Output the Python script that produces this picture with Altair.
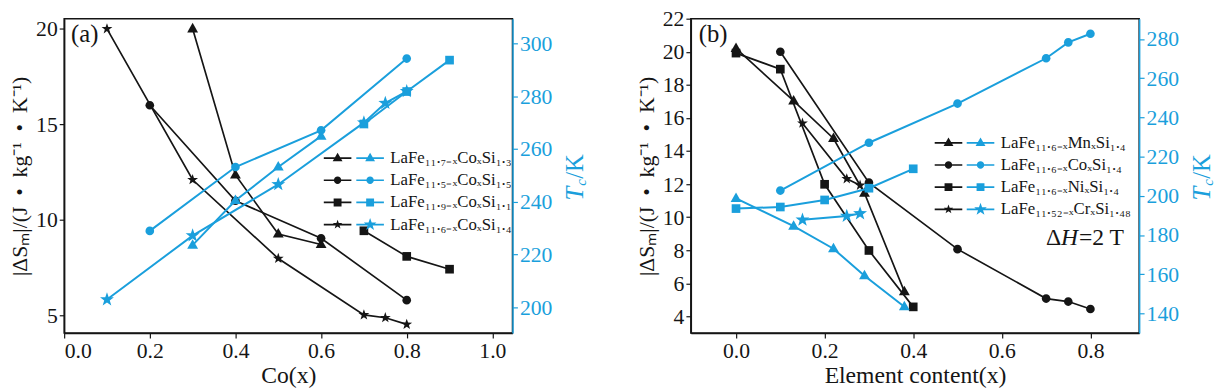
import math
import altair as alt
import pandas as pd

FONT = "Liberation Serif"
BLUE = "#1a9fdc"
INK = "#151515"

# ---------------- panel (a) data ----------------
a_series = ["LaFe₁₁.₇₋ₓCoₓSi₁.₃", "LaFe₁₁.₅₋ₓCoₓSi₁.₅",
            "LaFe₁₁.₉₋ₓCoₓSi₁.₁", "LaFe₁₁.₆₋ₓCoₓSi₁.₄"]
a1_x = [0.3, 0.4, 0.5, 0.6]
a1_ds = [20.0, 12.35, 9.26, 8.71]
a1_tc = [223.6, 240.5, 253.2, 264.9]
a2_x = [0.2, 0.4, 0.6, 0.8]
a2_ds = [16.0, 11.0, 9.04, 5.8]
a2_tc = [229.0, 253.2, 267.1, 294.3]
a3_x = [0.7, 0.8, 0.9]
a3_ds = [9.43, 8.09, 7.42]
a3_tc = [269.5, 281.8, 293.7]
a4_x = [0.1, 0.3, 0.5, 0.7, 0.75, 0.8]
a4_ds = [20.0, 12.1, 7.98, 5.03, 4.88, 4.53]
a4_tc = [203.0, 227.2, 246.6, 270.0, 277.4, 281.9]

# ---------------- panel (b) data ----------------
b_series = ["LaFe₁₁.₆₋ₓMnₓSi₁.₄", "LaFe₁₁.₆₋ₓCoₓSi₁.₄",
            "LaFe₁₁.₆₋ₓNiₓSi₁.₄", "LaFe₁₁.₅₂₋ₓCrₓSi₁.₄₈"]
b1_x = [0.0, 0.13, 0.22, 0.29, 0.38]
b1_ds = [20.2, 17.03, 14.76, 11.45, 5.5]
b1_tc = [198.7, 184.5, 173.0, 159.2, 143.4]
b2_x = [0.1, 0.3, 0.5, 0.7, 0.75, 0.8]
b2_ds = [20.0, 12.09, 8.07, 5.08, 4.9, 4.45]
b2_tc = [202.7, 227.1, 247.1, 270.2, 278.3, 282.7]
b3_x = [0.0, 0.1, 0.2, 0.3, 0.4]
b3_ds = [19.92, 18.95, 11.99, 7.99, 4.58]
b3_tc = [193.5, 194.3, 197.9, 203.9, 213.8]
b4_x = [0.15, 0.25, 0.28]
b4_ds = [15.68, 12.32, 11.93]
b4_tc = [187.8, 189.7, 191.0]

# axis ticks
a_xticks = [0.0, 0.2, 0.4, 0.6, 0.8, 1.0]
a_lticks = [5, 10, 15, 20]
a_rticks = [200, 220, 240, 260, 280, 300]
b_xticks = [0.0, 0.2, 0.4, 0.6, 0.8]
b_lticks = [4, 6, 8, 10, 12, 14, 16, 18, 20, 22]
b_rticks = [140, 160, 180, 200, 220, 240, 260, 280]

W, H = 455, 319


def frame(names, xs, dss, tcs):
    rows = []
    for n, x, d, t in zip(names, xs, dss, tcs):
        for xi, di, ti in zip(x, d, t):
            rows.append({"series": n, "x": xi, "ds": di, "tc": ti})
    return pd.DataFrame(rows)


def circle(r):
    return f"M{r},0A{r},{r},0,1,1,{-r},0A{r},{r},0,1,1,{r},0Z"


def square(h):
    return f"M{-h},{-h}H{h}V{h}H{-h}Z"


def star(r, inner=0.4):
    pts = []
    for k in range(10):
        ang = math.radians(-90 + 36 * k)
        rr = r if k % 2 == 0 else r * inner
        pts.append(f"{rr * math.cos(ang):.3f},{rr * math.sin(ang):.3f}")
    return "M" + "L".join(pts) + "Z"


TRI = "M0,-1.1L1,0.66L-1,0.66Z"
LINE = "M-2.8,-0.17H2.8V0.17H-2.8Z"
SH_BLACK = [TRI, circle(0.8), square(0.8), star(1.05)]
SH_BLUE = [TRI, circle(0.8), square(0.8), star(1.35)]
LG_BLACK = [LINE + s for s in [TRI, circle(0.75), square(0.8), star(1.0)]]
LG_BLUE = [LINE + s for s in [TRI, circle(0.75), square(0.8), star(1.35)]]

AX = dict(labelFont=FONT, titleFont=FONT, labelFontSize=22, titleFontWeight="normal",
          grid=False, tickSize=5, tickWidth=1.2, domainWidth=1.5)
NB = "\u00a0\u00a0"
DS_TITLE = f"|ΔSₘ|/(J{NB}•{NB}kg⁻¹{NB}•{NB}K⁻¹)"


def x_enc(dom, vals, title):
    return alt.X("x:Q", scale=alt.Scale(domain=dom, nice=False, zero=False),
                 axis=alt.Axis(values=vals, format=".1f", title=title, titleFontSize=24,
                               labelPadding=3, titlePadding=2, domainColor=INK,
                               tickColor=INK, labelColor=INK, titleColor=INK, **AX))


def yl_enc(dom, vals):
    return alt.Y("ds:Q", scale=alt.Scale(domain=dom, nice=False, zero=False),
                 axis=alt.Axis(orient="left", values=vals, format="d", title=DS_TITLE,
                               titleFontSize=22, titlePadding=4, labelPadding=2,
                               domainColor=INK, tickColor=INK, labelColor=INK,
                               titleColor=INK, **AX))


def yr_enc(dom, vals):
    return alt.Y("tc:Q", scale=alt.Scale(domain=dom, nice=False, zero=False),
                 axis=alt.Axis(orient="right", values=vals, format="d", title=None,
                               labelPadding=2, domainColor=BLUE, tickColor=BLUE,
                               labelColor=BLUE, **AX))


def legend(lx, ly, color, show_labels):
    extra = {} if show_labels else {"labelExpr": "' '"}
    return alt.Legend(orient="none", legendX=lx, legendY=ly, title=None, padding=0,
                      labelFont=FONT, labelFontSize=17, labelColor=INK,
                      labelOffset=12, labelLimit=400,
                      rowPadding=4.5, symbolSize=100, symbolOpacity=1,
                      symbolFillColor=color, symbolStrokeColor=color,
                      symbolStrokeWidth=0, **extra)


def txt(s, x, y, size, color=INK, style="normal", angle=0, align="left",
        baseline="middle"):
    return alt.Chart(pd.DataFrame({"t": [s]})).mark_text(
        font=FONT, fontSize=size, fontStyle=style, angle=angle, align=align,
        baseline=baseline, color=color).encode(text="t:N", x=alt.value(x), y=alt.value(y))


def tc_title(dx):
    y0 = H / 2 + 25
    return [
        txt("T", W + dx, y0, 25, BLUE, "italic", 270, "left", "alphabetic"),
        txt("c", W + dx + 3, y0 - 15, 15, BLUE, "italic", 270, "left", "alphabetic"),
        txt("/K", W + dx, y0 - 22, 25, BLUE, "normal", 270, "left", "alphabetic"),
    ]


def panel(names, xs, dss, tcs, xdom, xvals, xtitle, ldom, lvals, rdom, rvals,
          lx_black, lx_blue, ly, tag, tag_x, tc_dx, extra=None):
    df = frame(names, xs, dss, tcs)
    X = x_enc(xdom, xvals, xtitle)
    YL = yl_enc(ldom, lvals)
    YR = yr_enc(rdom, rvals)
    base = alt.Chart(df)
    legdf = pd.DataFrame({"series": names})

    b_line = base.mark_line(color=INK, strokeWidth=1.7).encode(x=X, y=YL, detail="series:N")
    b_pts = base.mark_point(filled=True, opacity=1, color=INK, size=121, strokeWidth=0).encode(
        x=X, y=YL,
        shape=alt.Shape("series:N", scale=alt.Scale(domain=names, range=SH_BLACK), legend=None))
    b_leg = alt.Chart(legdf).mark_point(filled=True, opacity=0, color=INK, size=100).encode(
        shape=alt.Shape("series:N", scale=alt.Scale(domain=names, range=LG_BLACK),
                        legend=legend(lx_black, ly, INK, False)))
    blk_layers = [b_line, b_pts, b_leg]
    if extra is not None:
        blk_layers += extra(X, YL)
    black = alt.layer(*blk_layers).resolve_scale(shape="independent")

    u_line = base.mark_line(color=BLUE, strokeWidth=2).encode(x=X, y=YR, detail="series:N")
    u_pts = base.mark_point(filled=True, opacity=1, color=BLUE, size=121, strokeWidth=0).encode(
        x=X, y=YR,
        shape=alt.Shape("series:N", scale=alt.Scale(domain=names, range=SH_BLUE), legend=None))
    u_leg = alt.Chart(legdf).mark_point(filled=True, opacity=0, color=BLUE, size=100).encode(
        shape=alt.Shape("series:N", scale=alt.Scale(domain=names, range=LG_BLUE),
                        legend=legend(lx_blue, ly, BLUE, True)))
    blue = alt.layer(u_line, u_pts, u_leg).resolve_scale(shape="independent")

    layers = [black, blue, txt(tag, tag_x, 16, 25)] + tc_title(tc_dx)
    return alt.layer(*layers).resolve_scale(y="independent").properties(width=W, height=H)


def dh_note(X, YL):
    d = pd.DataFrame({"x": [0.772], "ds": [8.74]})
    out = []
    for s, align, style, dx in [("=2 T", "left", "normal", 1), ("H", "right", "italic", 0),
                                ("Δ", "right", "normal", -17)]:
        out.append(alt.Chart(d.assign(t=s)).mark_text(
            font=FONT, fontSize=24, fontStyle=style, align=align, baseline="middle",
            color=INK, dx=dx).encode(x=X, y=YL, text="t:N"))
    return out


pa = panel(a_series, [a1_x, a2_x, a3_x, a4_x], [a1_ds, a2_ds, a3_ds, a4_ds],
           [a1_tc, a2_tc, a3_tc, a4_tc], [0, 1.047], a_xticks, "Co(x)",
           [4.08, 20.53], a_lticks, [190.3, 309.4], a_rticks,
           269, 302, 133, "(a)", 7, 72)
pb = panel(b_series, [b1_x, b2_x, b3_x, b4_x], [b1_ds, b2_ds, b3_ds, b4_ds],
           [b1_tc, b2_tc, b3_tc, b4_tc], [-0.102, 0.91], b_xticks, "Element content(x)",
           [3.0, 22.0], b_lticks, [130.0, 290.4], b_rticks,
           253, 285.5, 117.5, "(b)", 8, 72, extra=dh_note)

chart = alt.hconcat(pa, pb, spacing=45).properties(
    padding={"left": 0, "top": -4, "right": 0, "bottom": 0}
).configure_view(stroke=INK, strokeWidth=1.5)

chart.save("out.html", embed_options={"renderer": "svg", "actions": False})
